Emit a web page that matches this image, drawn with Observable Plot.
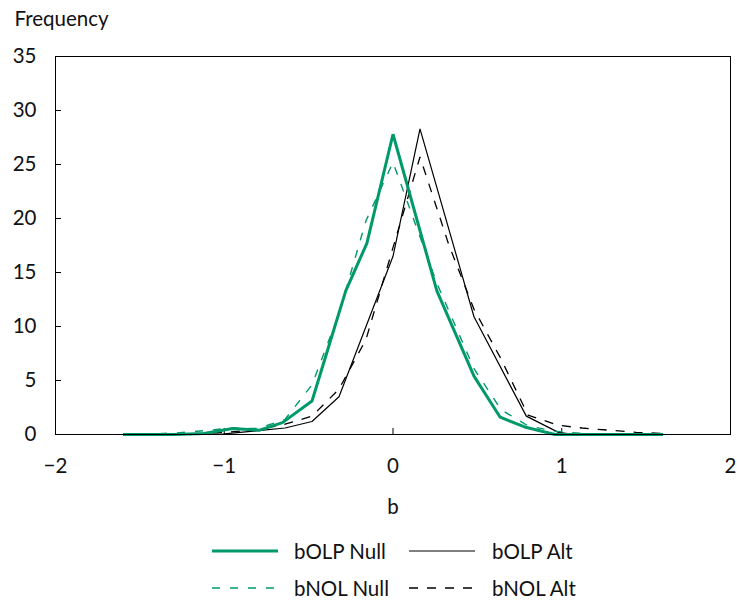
<!DOCTYPE html>
<html><head><meta charset="utf-8">
<script src="https://cdn.jsdelivr.net/npm/d3@7"></script>
<script src="https://cdn.jsdelivr.net/npm/@observablehq/plot@0.6"></script>
<style>
html,body{margin:0;padding:0;background:#fff;}
body{position:relative;width:737px;height:602px;font-family:Lato,"Noto Sans",sans-serif;color:#111;}
#legend{position:absolute;left:0;top:0;width:737px;height:602px;pointer-events:none;}
</style></head><body>
<div id="chart"></div>
<div id="legend"></div>
<script>
// ---- data ----
const seriesNames = ["bOLP Null", "bNOL Null", "bOLP Alt", "bNOL Alt"];

const bOLPNullX = [-1.6, -1.3, -1.12, -0.95, -0.79, -0.655, -0.48, -0.28, -0.155, 0, 0.26, 0.48, 0.635, 0.78, 0.96, 1.2, 1.6];
const bOLPNullY = [0, 0, 0.1, 0.55, 0.4, 1.1, 3.1, 13.3, 17.7, 27.8, 13.3, 5.4, 1.6, 0.7, 0, 0, 0];

const bNOLNullX = [-1.6, -1.44, -1.28, -1.12, -0.96, -0.8, -0.64, -0.48, -0.32, -0.16, 0, 0.26, 0.48, 0.64, 0.8, 0.96, 1.12, 1.28, 1.6];
const bNOLNullY = [0, 0.05, 0.15, 0.35, 0.6, 0.55, 1.4, 4.6, 11.2, 19.8, 25.2, 14.0, 6.1, 2.3, 0.8, 0.3, 0.1, 0.05, 0];

const bOLPAltX = [-1.6, -1.0, -0.8, -0.64, -0.48, -0.32, 0, 0.16, 0.48, 0.79, 0.98, 1.08, 1.6];
const bOLPAltY = [0, 0.05, 0.35, 0.6, 1.2, 3.5, 16.5, 28.3, 10.9, 1.7, 0.2, 0, 0];

const bNOLAltX = [-1.6, -1.28, -1.12, -0.96, -0.8, -0.64, -0.48, -0.32, -0.16, 0, 0.16, 0.33, 0.48, 0.64, 0.8, 0.98, 1.12, 1.28, 1.44, 1.6];
const bNOLAltY = [0, 0.05, 0.1, 0.25, 0.45, 0.95, 1.7, 4.2, 8.8, 17.3, 25.7, 17.6, 11.6, 7.0, 1.8, 0.85, 0.6, 0.4, 0.2, 0.1];

const xTicks = [-2, -1, 0, 1, 2];
const yTicks = [0, 5, 10, 15, 20, 25, 30, 35];
const xLabel = "b";
const yLabel = "Frequency";

// ---- build table ----
const allX = [bOLPNullX, bNOLNullX, bOLPAltX, bNOLAltX];
const allY = [bOLPNullY, bNOLNullY, bOLPAltY, bNOLAltY];
const rows = [];
seriesNames.forEach((s, i) => allX[i].forEach((x, j) => rows.push({series: s, x, y: allY[i][j]})));
const of = s => rows.filter(r => r.series === s);

const green = "#00996a";
const FS = 20.5;
const styles = {
  "bOLP Null": {stroke: green, strokeWidth: 3, dash: null},
  "bNOL Null": {stroke: green, strokeWidth: 1.4, dash: "8,10"},
  "bOLP Alt": {stroke: "#000", strokeWidth: 1.2, dash: null},
  "bNOL Alt": {stroke: "#000", strokeWidth: 1.3, dash: "9,9"}
};

const chart = Plot.plot({
  width: 737,
  height: 525,
  marginTop: 56,
  marginBottom: 91,
  marginLeft: 55,
  marginRight: 7,
  style: {fontFamily: "Lato, 'Noto Sans', sans-serif", fontSize: FS + "px", color: "#111", background: "#fff"},
  x: {domain: [-2, 2]},
  y: {domain: [0, 35]},
  marks: [
    Plot.axisX({ticks: xTicks, tickSize: -6, tickPadding: 30, tickFormat: d3.format("d"), label: null, stroke: "#000", fontSize: FS}),
    Plot.axisY({ticks: yTicks, tickSize: -6, tickPadding: 25, label: null, stroke: "#000", fontSize: FS}),
    ...["bNOL Alt", "bOLP Alt", "bNOL Null", "bOLP Null"].map(s =>
      Plot.line(of(s), {x: "x", y: "y", stroke: styles[s].stroke, strokeWidth: styles[s].strokeWidth,
        strokeDasharray: styles[s].dash, strokeLinejoin: "miter", strokeLinecap: "butt"})),
    Plot.frame({stroke: "#000", strokeWidth: 1}),
    Plot.text([xLabel], {text: d => d, frameAnchor: "bottom", lineAnchor: "middle", dy: 73, fontSize: FS}),
    Plot.text([yLabel], {text: d => d, frameAnchor: "top-left", lineAnchor: "middle", textAnchor: "start", dx: -41, dy: -37, fontSize: FS})
  ]
});
document.getElementById("chart").appendChild(chart);

// ---- legend (below the svg) ----
const legend = document.getElementById("legend");
const legendPos = [
  {name: "bOLP Null", lx: 212, tx: 294, cy: 551},
  {name: "bOLP Alt", lx: 409, tx: 492, cy: 551},
  {name: "bNOL Null", lx: 212, tx: 294, cy: 588},
  {name: "bNOL Alt", lx: 409, tx: 492, cy: 588}
];
legendPos.forEach(p => {
  const st = styles[p.name];
  const ns = "http://www.w3.org/2000/svg";
  const svg = document.createElementNS(ns, "svg");
  svg.setAttribute("width", 66); svg.setAttribute("height", 10);
  svg.style.position = "absolute"; svg.style.left = p.lx + "px"; svg.style.top = (p.cy - 5) + "px";
  const ln = document.createElementNS(ns, "line");
  ln.setAttribute("x1", 0); ln.setAttribute("x2", 66); ln.setAttribute("y1", 5); ln.setAttribute("y2", 5);
  ln.setAttribute("stroke", st.stroke); ln.setAttribute("stroke-width", st.strokeWidth);
  if (st.dash) ln.setAttribute("stroke-dasharray", st.dash);
  svg.appendChild(ln);
  legend.appendChild(svg);
  const t = document.createElement("span");
  t.textContent = p.name;
  t.style.position = "absolute"; t.style.left = p.tx + "px"; t.style.top = (p.cy - 12) + "px";
  t.style.fontSize = FS + "px"; t.style.lineHeight = "24px"; t.style.whiteSpace = "nowrap";
  legend.appendChild(t);
});
</script>
</body></html>
